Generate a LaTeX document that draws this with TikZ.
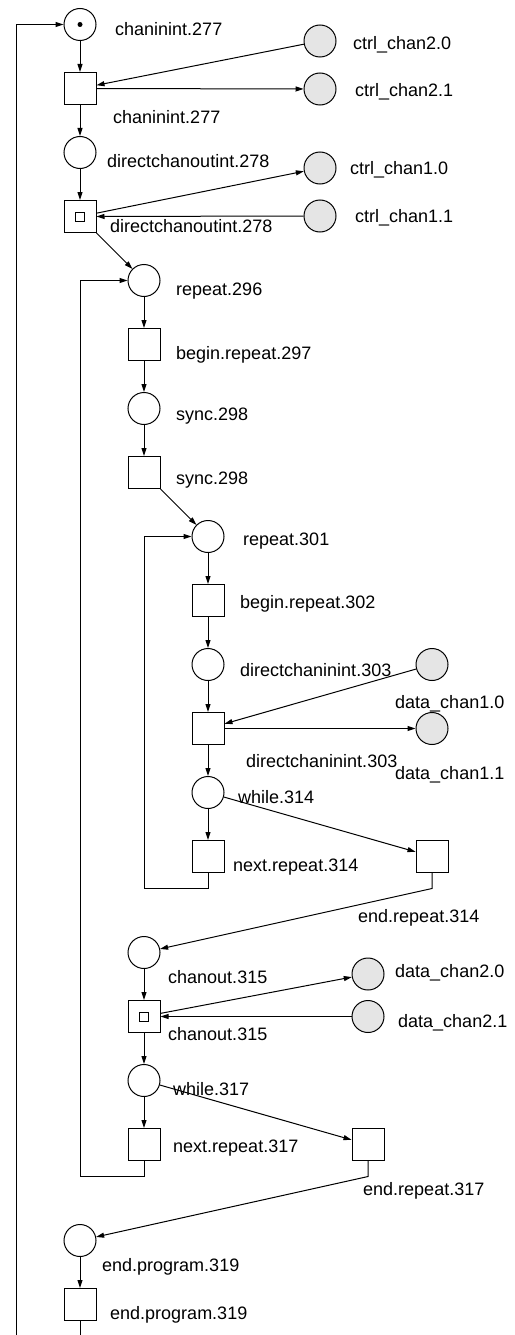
\documentclass[tikz,border=0pt]{standalone}
\usepackage{fontspec}
\setmainfont{Liberation Sans}
\usetikzlibrary{arrows.meta}
\definecolor{chanfill}{RGB}{229,229,229}
\begin{document}
\begin{tikzpicture}[x=1pt,y=-1pt,
 pl/.style={circle,draw,line width=1pt,minimum size=32pt,inner sep=0pt},
 chan/.style={pl,fill=chanfill},
 tr/.style={rectangle,draw,line width=1pt,minimum size=32pt,inner sep=0pt},
 dtr/.style={tr,path picture={\draw[line width=1pt] ([xshift=-4.5pt,yshift=-4.5pt]path picture bounding box.center) rectangle ([xshift=4.5pt,yshift=4.5pt]path picture bounding box.center);}},
 lbl/.style={anchor=base west,inner sep=0pt,font=\fontsize{18}{20}\selectfont},
 arc/.style={line width=1pt,-{Triangle[length=8pt,width=5pt]}},
 ln/.style={line width=1pt}]
\useasboundingbox (0,0) rectangle (514,1335);
% places / transitions main column
\node[pl] (P1) at (80,24.5) {};
\fill (P1.center) circle (2.5pt);
\node[tr] (T1) at (80,88.5) {};
\node[pl] (P2) at (80,152.5) {};
\node[dtr] (T2) at (80,216.5) {};
\node[chan] (c20) at (320,41) {};
\node[chan] (c21) at (320,89) {};
\node[chan] (c10) at (320,168) {};
\node[chan] (c11) at (320,216) {};
\node[pl] (R296) at (144,280.5) {};
\node[tr] (BR297) at (144,344.5) {};
\node[pl] (SP298) at (144,408.5) {};
\node[tr] (ST298) at (144,472.5) {};
\node[pl] (R301) at (208,536.5) {};
\node[tr] (BR302) at (208,600.5) {};
\node[pl] (DP303) at (208,664.5) {};
\node[tr] (DT303) at (208,728.5) {};
\node[chan] (d10) at (432,664.5) {};
\node[chan] (d11) at (432,728.5) {};
\node[pl] (W314) at (208,792.5) {};
\node[tr] (NR314) at (208,856.5) {};
\node[tr] (ER314) at (432,856.5) {};
\node[pl] (CP315) at (144,952.5) {};
\node[dtr] (CT315) at (144,1016.5) {};
\node[chan] (d20) at (368,974) {};
\node[chan] (d21) at (368,1016.5) {};
\node[pl] (W317) at (144,1080.5) {};
\node[tr] (NR317) at (144,1144.5) {};
\node[tr] (ER317) at (368,1144.5) {};
\node[pl] (EPP) at (80,1240.5) {};
\node[tr] (EPT) at (80,1304.5) {};
% labels
\node[lbl] (lP1) at (115,36) {chaninint.277};
\node[lbl] (lT1) at (113,124) {chaninint.277};
\node[lbl] (lP2) at (107,167) {directchanoutint.278};
\node[lbl] (lT2) at (110,232) {directchanoutint.278};
\node[lbl] (lc20) at (353,50) {ctrl\_chan2.0};
\node[lbl] (lc21) at (355,97) {ctrl\_chan2.1};
\node[lbl] (lc10) at (350,174) {ctrl\_chan1.0};
\node[lbl] (lc11) at (355,222) {ctrl\_chan1.1};
\node[lbl] (lR296) at (176,295) {repeat.296};
\node[lbl] (lBR297) at (176,359) {begin.repeat.297};
\node[lbl] (lSP298) at (176,420) {sync.298};
\node[lbl] (lST298) at (176,484) {sync.298};
\node[lbl] (lR301) at (243,545) {repeat.301};
\node[lbl] (lBR302) at (240,608) {begin.repeat.302};
\node[lbl] (lDP303) at (240,676) {directchaninint.303};
\node[lbl] (lDT303) at (246,767) {directchaninint.303};
\node[lbl] (ld10) at (395,708) {data\_chan1.0};
\node[lbl] (ld11) at (395,779) {data\_chan1.1};
\node[lbl] (lW314) at (238,803) {while.314};
\node[lbl] (lNR314) at (233,871) {next.repeat.314};
\node[lbl] (lER314) at (358,922) {end.repeat.314};
\node[lbl] (lCP315) at (168,983) {chanout.315};
\node[lbl] (lCT315) at (168,1040) {chanout.315};
\node[lbl] (ld20) at (395,977) {data\_chan2.0};
\node[lbl] (ld21) at (398,1027) {data\_chan2.1};
\node[lbl] (lW317) at (173,1095) {while.317};
\node[lbl] (lNR317) at (173,1152) {next.repeat.317};
\node[lbl] (lER317) at (363,1195) {end.repeat.317};
\node[lbl] (lEPP) at (102,1271) {end.program.319};
\node[lbl] (lEPT) at (110,1319) {end.program.319};
% helper coordinates
\coordinate (outerB) at (16,1335);
\coordinate (mainB) at (80,1335);
\coordinate (loopA) at (80,1176.5);
\coordinate (loopB) at (144,888.5);
\coordinate (bend314) at (432,888.5);
\coordinate (bend317) at (368,1176.5);
% connectors
\draw[arc] (outerB) |- (P1);
\draw[arc] (P1) -- (T1);
\draw[arc] (T1) -- (P2);
\draw[arc] (P2) -- (T2);
\draw[arc] (c20) -- (T1);
\draw[arc] (T1) -- (c21);
\draw[arc] (T2) -- (c10);
\draw[arc] (c11) -- (T2);
\draw[arc] (T2) -- (R296);
\draw[arc] (R296) -- (BR297);
\draw[arc] (BR297) -- (SP298);
\draw[arc] (SP298) -- (ST298);
\draw[arc] (ST298) -- (R301);
\draw[arc] (R301) -- (BR302);
\draw[arc] (BR302) -- (DP303);
\draw[arc] (DP303) -- (DT303);
\draw[arc] (d10) -- (DT303);
\draw[arc] (DT303) -- (d11);
\draw[arc] (DT303) -- (W314);
\draw[arc] (W314) -- (NR314);
\draw[arc] (W314) -- (ER314);
\draw[arc] (NR314.south) |- (loopB) |- (R301);
\draw[arc] (ER314.south) -- (bend314) -- (CP315);
\draw[arc] (CP315) -- (CT315);
\draw[arc] (CT315) -- (d20);
\draw[arc] (d21) -- (CT315);
\draw[arc] (CT315) -- (W317);
\draw[arc] (W317) -- (NR317);
\draw[arc] (W317) -- (ER317);
\draw[arc] (NR317.south) |- (loopA) |- (R296);
\draw[arc] (ER317.south) -- (bend317) -- (EPP);
\draw[arc] (EPP) -- (EPT);
\draw[ln] (EPT) -- (mainB);
\end{tikzpicture}
\end{document}
